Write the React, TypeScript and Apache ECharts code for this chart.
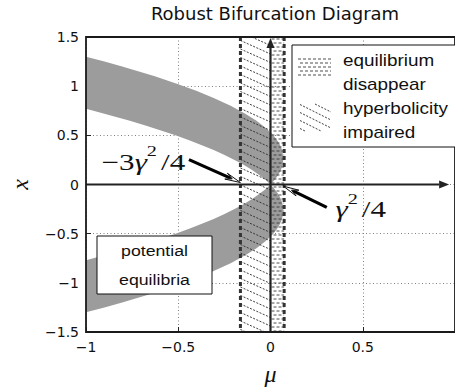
import { useEffect, useRef } from 'react';
import * as echarts from 'echarts';

const TITLE = 'Robust Bifurcation Diagram';
const X_NAME = 'μ';
const Y_NAME = 'x';
const xTicks = [-1, -0.5, 0, 0.5, 1];
const xTickLabels = ['\u22121', '\u22120.5', '0', '0.5', ''];
const yTicks = [-1.5, -1, -0.5, 0, 0.5, 1, 1.5];
const yTickLabels = ['\u22121.5', '\u22121', '\u22120.5', '0', '0.5', '1', '1.5'];

// upper branch of the "potential equilibria" band (mirrored for x < 0): (mu, x)
const outerX = [0, 0.05, 0.1, 0.15, 0.2, 0.265, 0.35, 0.4, 0.45, 0.5, 0.53, 0.58, 0.65, 0.72, 0.8, 0.88, 0.95, 1.02, 1.1, 1.2, 1.25, 1.3];
const outerMu = [0, 0.024, 0.043, 0.057, 0.066, 0.07, 0.063, 0.052, 0.036, 0.015, 0, -0.029, -0.078, -0.137, -0.216, -0.308, -0.399, -0.5, -0.627, -0.804, -0.9, -1];
const innerX = [0.77, 0.74, 0.7, 0.65, 0.6, 0.55, 0.5, 0.45, 0.4, 0.35, 0.3, 0.25, 0.2, 0.15, 0.1, 0.05, 0];
const innerMu = [-1, -0.94, -0.861, -0.767, -0.678, -0.594, -0.515, -0.441, -0.372, -0.308, -0.249, -0.195, -0.146, -0.102, -0.063, -0.029, 0];

// hatched regions [muLeft, muRight, kind]
const hatchRegions = [
  [-0.163, 0, 0], // hyperbolicity impaired
  [0, 0.074, 1], // equilibrium disappear
];
const boundaryMu = [-0.163, 0.074];
const axisArrows = [
  [-1, 0, 0.968, 0],
  [0, -1.5, 0, 1.49],
];

const annotArrowFrom = [[-0.442, 0.253], [0.305, -0.233]];
const annotArrowTo = [[-0.163, 0.02], [0.07, -0.017]];
const annotTextPos = [[-0.689, 0.262], [0.489, -0.22]];
const annotTexts = ['{m|\u22123}{g|γ}{s|2}{m|/4}', '{g|γ}{s|2}{m|/4}'];

const legendLines = ['equilibrium', 'disappear', 'hyperbolicity', 'impaired'];
const boxLines = ['potential', 'equilibria'];

const SANS = 'DejaVu Sans';
const LSANS = 'Liberation Sans';
const SERIF = 'Liberation Serif';

function diagLines(xL: number, xR: number, top: number, bot: number, spacing: number, k: number, style: any) {
  const out: any[] = [];
  const w = xR - xL;
  for (let c = top - k * w; c < bot; c += spacing) {
    let x1 = xL, y1 = c, x2 = xR, y2 = c + k * w;
    if (y1 < top) { x1 = xL + (top - c) / k; y1 = top; }
    if (y2 > bot) { x2 = xL + (bot - c) / k; y2 = bot; }
    if (x2 <= x1) continue;
    out.push({ type: 'line', shape: { x1, y1, x2, y2 }, style });
  }
  return out;
}

function hDashes(xL: number, xR: number, top: number, bot: number, spacing: number, style: any) {
  const out: any[] = [];
  let i = 0;
  for (let y = top + spacing / 2; y < bot; y += spacing, i++) {
    out.push({ type: 'line', shape: { x1: xL, y1: y, x2: xR, y2: y }, style: { ...style, lineDashOffset: i % 2 ? 2.5 : 0 } });
  }
  return out;
}

const diagStyle = { stroke: '#2a2a2a', lineWidth: 0.9, lineDash: [2, 1.5], fill: null };
const dashStyle = { stroke: '#3a3a3a', lineWidth: 0.9, lineDash: [3, 2], fill: null };

function buildOption(): any {
  return {
    animation: false,
    textStyle: { fontFamily: SANS },
    title: {
      text: TITLE,
      left: 270,
      top: -1,
      textAlign: 'center',
      textStyle: { fontFamily: SANS, fontSize: 18, fontWeight: 'normal', color: '#111' },
    },
    grid: { left: 82, top: 37, width: 380, height: 296, show: false },
    xAxis: {
      type: 'value',
      min: -1,
      max: 1,
      interval: 0.5,
      name: X_NAME,
      nameLocation: 'middle',
      nameGap: 30,
      nameTextStyle: { fontFamily: SERIF, fontStyle: 'italic', fontSize: 24, color: '#111' },
      axisLine: { show: false, onZero: false },
      axisTick: { show: true, inside: true, length: 5, lineStyle: { color: '#222', width: 1 } },
      axisLabel: {
        fontSize: 14,
        color: '#111',
        fontFamily: SANS,
        margin: 8,
        showMaxLabel: false,
        formatter: (v: number) => {
          const i = xTicks.findIndex((t) => Math.abs(t - v) < 1e-9);
          return i >= 0 ? xTickLabels[i] : '';
        },
      },
      splitLine: { show: true, lineStyle: { type: [1, 2.5], color: '#808080', width: 1 } },
    },
    yAxis: {
      type: 'value',
      min: -1.5,
      max: 1.5,
      interval: 0.5,
      name: Y_NAME,
      nameLocation: 'middle',
      nameGap: 54,
      nameRotate: 90,
      nameTextStyle: { fontFamily: SERIF, fontStyle: 'italic', fontSize: 24, color: '#111' },
      axisLine: { show: false, onZero: false },
      axisTick: { show: true, inside: true, length: 5, lineStyle: { color: '#222', width: 1 } },
      axisLabel: {
        fontSize: 14,
        color: '#111',
        fontFamily: SANS,
        margin: 7,
        formatter: (v: number) => {
          const i = yTicks.findIndex((t) => Math.abs(t - v) < 1e-9);
          return i >= 0 ? yTickLabels[i] : '';
        },
      },
      splitLine: { show: true, lineStyle: { type: [1, 2.5], color: '#808080', width: 1 } },
    },
    series: [
      {
        type: 'custom',
        name: 'potential equilibria',
        coordinateSystem: 'cartesian2d',
        silent: true,
        z: 1,
        data: [[0, 1], [0, -1]],
        renderItem: (_p: any, api: any) => {
          const sign = api.value(1);
          const pts: number[][] = [];
          outerX.forEach((x, i) => pts.push(api.coord([outerMu[i], sign * x])));
          innerX.forEach((x, i) => pts.push(api.coord([innerMu[i], sign * x])));
          return { type: 'polygon', shape: { points: pts }, style: { fill: '#9c9c9c', stroke: null } };
        },
      },
      {
        type: 'custom',
        name: 'hatch',
        coordinateSystem: 'cartesian2d',
        silent: true,
        z: 3,
        data: hatchRegions,
        renderItem: (_p: any, api: any) => {
          const p0 = api.coord([api.value(0), 1.5]);
          const p1 = api.coord([api.value(1), -1.5]);
          const kind = api.value(2);
          const children =
            kind === 0
              ? diagLines(p0[0], p1[0], p0[1], p1[1], 8.5, 0.45, diagStyle)
              : hDashes(p0[0] + 1, p1[0], p0[1], p1[1], 4, dashStyle);
          return { type: 'group', children };
        },
      },
      {
        type: 'custom',
        name: 'boundaries',
        coordinateSystem: 'cartesian2d',
        silent: true,
        z: 4,
        data: boundaryMu.map((m) => [m, 0]),
        renderItem: (_p: any, api: any) => {
          const a = api.coord([api.value(0), 1.5]);
          const b = api.coord([api.value(0), -1.5]);
          return {
            type: 'line',
            shape: { x1: a[0], y1: a[1], x2: b[0], y2: b[1] },
            style: { stroke: '#333', lineWidth: 3, lineDash: [4, 3] },
          };
        },
      },
      {
        type: 'custom',
        name: 'axes',
        coordinateSystem: 'cartesian2d',
        silent: true,
        z: 5,
        data: axisArrows,
        renderItem: (_p: any, api: any) => {
          const a = api.coord([api.value(0), api.value(1)]);
          const b = api.coord([api.value(2), api.value(3)]);
          const ang = Math.atan2(b[1] - a[1], b[0] - a[0]);
          const L = 10, hw = 4;
          const c = Math.cos(ang), s = Math.sin(ang);
          const base = [b[0] - L * c, b[1] - L * s];
          return {
            type: 'group',
            children: [
              { type: 'line', shape: { x1: a[0], y1: a[1], x2: base[0], y2: base[1] }, style: { stroke: '#222', lineWidth: 2.2 } },
              {
                type: 'polygon',
                shape: { points: [b, [base[0] - hw * s, base[1] + hw * c], [base[0] + hw * s, base[1] - hw * c]] },
                style: { fill: '#222', stroke: null },
              },
            ],
          };
        },
      },
      {
        type: 'custom',
        name: 'frame',
        coordinateSystem: 'cartesian2d',
        silent: true,
        z: 6,
        data: [[-1, 1.5, 1, -1.5]],
        renderItem: (_p: any, api: any) => {
          const a = api.coord([api.value(0), api.value(1)]);
          const b = api.coord([api.value(2), api.value(3)]);
          return {
            type: 'rect',
            shape: { x: a[0], y: a[1], width: b[0] - a[0], height: b[1] - a[1] },
            style: { fill: null, stroke: '#1a1a1a', lineWidth: 1.8 },
          };
        },
      },
    ],
  };
}

function arrow(from: number[], to: number[]) {
  const [x0, y0] = from;
  const [x1, y1] = to;
  const ang = Math.atan2(y1 - y0, x1 - x0);
  const L = 16, a = 0.2;
  const c = Math.cos(ang), s = Math.sin(ang);
  const se = [x1 - 9 * c, y1 - 9 * s];
  const h1 = [x1 - L * Math.cos(ang - a), y1 - L * Math.sin(ang - a)];
  const h2 = [x1 - L * Math.cos(ang + a), y1 - L * Math.sin(ang + a)];
  return [
    { type: 'line', z: 20, shape: { x1: x0, y1: y0, x2: se[0], y2: se[1] }, style: { stroke: '#000', lineWidth: 3.2 } },
    { type: 'polygon', z: 20, shape: { points: [h1, [x1, y1], h2, se] }, style: { stroke: '#111', lineWidth: 1, fill: '#fff' } },
  ];
}

function textEl(x: number, y: number, text: string, fontSize: number, align: string, scaleX = 1, extra: any = {}) {
  return {
    type: 'text',
    z: 22,
    x,
    y,
    scaleX,
    style: {
      text,
      fontFamily: LSANS,
      fontSize,
      fill: '#111',
      align,
      verticalAlign: 'middle',
      textAlign: align,
      textVerticalAlign: 'middle',
      ...extra,
    },
  };
}

const mathRich = {
  m: { fontFamily: SERIF, fontSize: 23, lineHeight: 30, verticalAlign: 'bottom', fill: '#111' },
  g: { fontFamily: SERIF, fontStyle: 'italic', fontSize: 23, lineHeight: 30, verticalAlign: 'bottom', fill: '#111' },
  s: { fontFamily: SERIF, fontSize: 15, lineHeight: 18, verticalAlign: 'top', fill: '#111', padding: [0, 3, 0, 0] },
};

function buildGraphic(px: (p: number[]) => number[]) {
  const g: any[] = [];
  // annotation arrows and labels
  annotArrowFrom.forEach((f, i) => {
    g.push(...arrow(px(f), px(annotArrowTo[i])));
    const tp = px(annotTextPos[i]);
    g.push(textEl(tp[0], tp[1], annotTexts[i], 23, 'center', 1.35, { rich: mathRich, fontFamily: SERIF }));
  });

  // legend box
  g.push({ type: 'rect', z: 21, shape: { x: 292, y: 45, width: 175, height: 102 }, style: { fill: '#fff', stroke: '#111', lineWidth: 1 } });
  const eqPatch = hDashes(298, 331, 57, 79, 4, dashStyle).map((e) => ({ ...e, z: 22 }));
  g.push(...eqPatch);
  const hyPatch = diagLines(300, 331, 104, 131, 8, 0.5, diagStyle).map((e) => ({ ...e, z: 22 }));
  g.push(...hyPatch);
  const legendY = [61, 85, 109, 133];
  legendLines.forEach((t, i) => g.push(textEl(343, legendY[i], t, 16, 'left', 1.18)));

  // potential equilibria box
  g.push({ type: 'rect', z: 21, shape: { x: 97, y: 236, width: 115, height: 58 }, style: { fill: '#fff', stroke: '#111', lineWidth: 1 } });
  const boxY = [251, 280];
  boxLines.forEach((t, i) => g.push(textEl(154.5, boxY[i], t, 15, 'center', 1.18)));
  return g;
}

export default function App() {
  const ref = useRef<HTMLDivElement>(null);
  useEffect(() => {
    const el = ref.current!;
    const chart = echarts.init(el, null, { renderer: 'svg' });
    chart.setOption(buildOption());
    const px = (p: number[]) => chart.convertToPixel({ gridIndex: 0 }, p) as number[];
    chart.setOption({ graphic: buildGraphic(px) });
    return () => chart.dispose();
  }, []);
  return <div ref={ref} style={{ position: 'absolute', left: 0, top: 0, width: 455, height: 391, background: '#fff' }} />;
}
